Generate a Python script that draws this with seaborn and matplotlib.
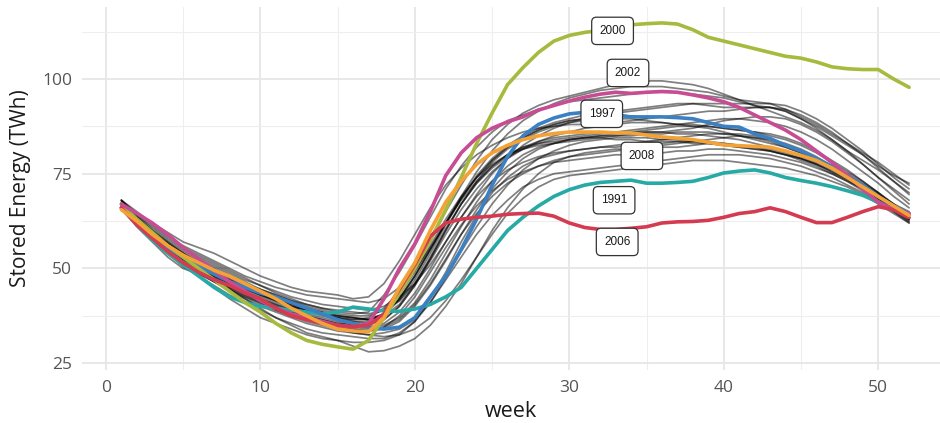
import matplotlib
matplotlib.use("Agg")
import matplotlib.pyplot as plt
from matplotlib.ticker import FixedLocator
import pandas as pd
import seaborn as sns

weeks = list(range(1, 53))

# ---- background years (drawn in translucent black) ----
y1990 = [68, 65, 62, 59.5, 57, 55.5, 54, 52, 50, 48, 46.5, 45, 44, 43.5, 43, 42, 42.5, 46, 52, 59, 66, 72, 76.5, 80, 82.5, 84.5,
         86, 87, 87.5, 88, 88, 88.5, 88.5, 89, 89.5, 90, 90.5, 91, 91.5, 91.5, 92, 92.5, 92.5, 91.5, 89.5, 87.5, 85, 82.5, 80, 77, 74.5, 72.5]
y1992 = [67, 62, 58, 54, 50.5, 48, 45, 42, 39.5, 37, 35.5, 34, 32.5, 31.5, 31, 30.5, 30.5, 31, 32.5, 36, 42, 49, 57, 64, 70, 74,
         77, 79, 80, 81, 81.5, 82, 82, 82.5, 83, 83, 83.5, 83.5, 83, 82.5, 82, 81.5, 81, 80, 79, 77.5, 76, 74, 71.5, 69, 66, 63]
y1993 = [66, 61, 57, 53, 50, 48.5, 47, 44.5, 42, 39.5, 37, 35, 33, 32, 31, 29.5, 28, 28.3, 29.5, 31.5, 35, 40, 46, 53, 60, 66,
         71, 75, 78, 79.5, 80.5, 81, 81.5, 81.5, 82, 82.5, 83, 83.5, 84, 84.5, 85, 84.5, 83.5, 82, 80.5, 78.5, 76.5, 74.5, 72, 69.5, 67, 65]
y1994 = [67, 63.5, 60, 57, 54, 51.5, 49, 47, 45, 43, 41.5, 40, 39, 38, 37, 36.5, 37, 39.5, 44, 50, 57, 65, 72, 78.5, 84, 88,
         91, 93, 94.5, 95.5, 96.5, 97.5, 98.5, 99, 99.5, 99.5, 99, 98.5, 97.5, 96, 94.5, 93, 91.5, 90, 88.5, 86.5, 84, 81, 77.5, 74, 70.5, 67]
y1995 = [68, 64, 60.5, 57.5, 55, 53, 51, 49, 47, 45.5, 44, 42.5, 41.5, 40.5, 40, 39.5, 39, 40, 42.5, 46, 51, 57, 63.5, 69.5, 75, 79,
         82.5, 85, 87, 88.5, 89.5, 90.5, 91, 91.5, 92, 92.5, 93, 93.5, 93.5, 93.5, 93.5, 93.5, 93.5, 92, 90, 88, 85.5, 83, 80.5, 78, 75, 72]
y1996 = [66, 62, 58.5, 55.5, 52.5, 50, 47.5, 45, 43, 41, 39, 37.5, 36, 35, 34, 33, 32.5, 32, 32.5, 34, 37, 41.5, 47, 53, 59, 64.5,
         68.5, 71.5, 73.5, 74.5, 75, 75.5, 76, 76.5, 77, 77.5, 78, 78.5, 78.5, 78.5, 78, 77.5, 77, 76.5, 75.5, 74.5, 73, 71.5, 69.5, 67, 64.5, 62]
y1998 = [67, 63, 59.5, 56.5, 54, 51.5, 49.5, 47.5, 45.5, 43.5, 42, 40.5, 39, 38, 37, 36, 35.5, 36.5, 40, 45.5, 52, 59, 65.5, 71, 75.5, 79,
         81.5, 83.5, 85, 86, 87, 87.5, 88, 88.5, 88.5, 88.5, 88, 88, 87.5, 87, 86.5, 86, 85, 84, 82.5, 80.5, 78, 75.5, 73, 70, 67, 64]
y1999 = [66.5, 62.5, 59, 56, 53, 50.5, 48, 46, 44, 42, 40.5, 39, 38, 37, 36, 35, 34.5, 35, 37, 41, 47, 54, 61, 67.5, 73, 77,
         80, 82, 83, 84, 84.5, 85, 85.5, 86, 86.5, 87, 87.5, 87.5, 87.5, 87, 86.5, 86, 85.5, 84.5, 83, 81, 78.5, 76, 73, 70, 66.5, 63]
y2001 = [67.5, 64, 61, 58, 55.5, 53.5, 51.5, 49.5, 47.5, 45.5, 43.5, 42, 40.5, 39.5, 38.5, 38, 38.5, 43, 49, 56, 63.5, 71, 77, 82, 86, 89,
         90.5, 92, 93, 94, 94.5, 95, 95.5, 96, 96.5, 96.5, 96.5, 96, 95.5, 95, 94, 93, 92.5, 92, 90.5, 88.5, 86, 83, 80, 76.5, 73, 69.5]
y2003 = [66, 61.5, 57.5, 54, 51, 48.5, 46.5, 44.5, 42.5, 41, 39.5, 38, 37, 36, 35, 34.5, 34, 34.5, 36.5, 40.5, 46, 52.5, 59, 64.5, 69, 72.5,
         75, 77, 78.5, 79.5, 80, 80.5, 81, 81.5, 82, 82, 82, 82.5, 83, 83, 82.5, 82, 81.5, 80.5, 79, 77.5, 75.5, 73.5, 71, 68.5, 66, 63.5]
y2004 = [67, 63, 59.5, 56.5, 54, 52, 50, 48, 46, 44.5, 43, 41.5, 40.5, 39.5, 39, 38.5, 38, 39, 41.5, 46, 52.5, 60, 67, 72.5, 77, 80,
         82, 83, 83.5, 84, 84.5, 85, 85, 85.5, 86, 86, 86.5, 87, 88, 89, 89.5, 90, 90, 89.5, 88, 86, 83.5, 80.5, 77.5, 74, 71, 68]
y2005 = [66.5, 62, 58, 54.5, 51.5, 49, 47, 45, 43.5, 42, 40.5, 39, 37.5, 36.5, 35.5, 35, 34.5, 35.5, 38.5, 43.5, 50, 57, 63.5, 69, 73, 76,
         78, 79.5, 80.5, 81, 81.5, 82, 82.5, 83, 83.5, 84, 84.5, 85, 85.5, 85.5, 85.5, 85, 84, 82.5, 81, 79, 77, 74.5, 72, 69, 66, 63]
y2007 = [68, 63.5, 59.5, 56, 53, 50.5, 48, 46, 44, 42.5, 41, 39.5, 38.5, 37.5, 36.5, 36, 36, 38, 42, 48, 55, 62, 68, 73, 77, 80,
         82, 83.5, 84.5, 85, 85.5, 86, 86, 86, 86, 86, 85.5, 85.5, 85, 84.5, 84, 83, 82, 81, 79.5, 78, 76.5, 74.5, 72, 69.5, 66.5, 63.5]
y2009 = [66, 61.5, 57.5, 54, 51, 48, 45.5, 43, 41, 39, 37, 35.5, 34, 33, 32.5, 32, 31.5, 31.5, 33, 36, 41, 47.5, 54.5, 61, 67, 72,
         76, 79, 81, 82.5, 83.5, 84, 84.5, 84.5, 84.5, 84, 84, 83.5, 83.5, 83, 82.5, 82, 81, 80, 78.5, 77, 75, 73, 70.5, 68, 65, 62]
y2010 = [66, 62, 58, 54.5, 51.5, 49, 46.5, 44, 42, 40, 38.5, 37, 35.5, 34.5, 33.5, 33, 32.5, 33, 34, 36.5, 41, 47, 53, 59, 64, 68,
         71.5, 73.5, 75, 75.5, 76, 76.5, 77, 77.5, 78, 78.5, 79, 79.5, 80, 80, 80, 79.5, 79, 78, 77, 75.5, 74, 72, 70, 67.5, 65, 62.5]
y2011 = [67, 63, 59, 55.5, 52.5, 50, 48, 46, 44.5, 43, 41.5, 40, 39, 38, 37, 36.5, 36.5, 38, 41.5, 47, 54, 61.5, 68.5, 74.5, 79, 82.5,
         85, 87, 88.5, 89.5, 90.5, 91, 91.5, 92, 92.5, 93, 93.5, 93.5, 93, 92.5, 92.5, 92.5, 92.5, 91.5, 89.5, 87, 84, 81, 78.5, 76, 73, 70]
y2012 = [67.5, 63.5, 60, 57, 54.5, 52.5, 50.5, 48.5, 46.5, 44.5, 43, 41.5, 40, 39, 38, 37.5, 37.5, 39, 43, 49, 56, 63, 69, 74, 77.5, 80,
         81.5, 82.5, 83, 83.5, 84, 84.5, 85, 85, 85.5, 85.5, 86, 86, 86, 85.5, 85, 84.5, 84, 83, 81.5, 79.5, 77, 74.5, 72, 69, 66, 63]
y2013 = [66.5, 62.5, 59, 55.5, 52.5, 50, 47.5, 45.5, 43.5, 41.5, 40, 38.5, 37.5, 36.5, 35.5, 35, 35, 36.5, 40, 45.5, 52.5, 60, 67, 73, 78, 81.5,
         84, 86, 87.5, 88.5, 89, 89.5, 89.5, 89.5, 89, 88.5, 88, 87.5, 87, 86, 85, 84, 83, 82, 80.5, 79, 77, 75, 72.5, 70, 67, 64]
y2014 = [67, 62.5, 58.5, 55, 52, 49.5, 47, 45, 43, 41.5, 40, 38.5, 37, 36, 35, 34, 33.5, 34.5, 37.5, 42.5, 49, 55.5, 61.5, 66.5, 70.5, 73.5,
         75.5, 77, 78, 78.5, 79, 79.5, 80, 80, 80.5, 80.5, 81, 81, 81.5, 81.5, 81, 80.5, 80, 79, 78, 76.5, 75, 73, 71, 68.5, 66, 63]
y2015 = [68, 64.5, 61.5, 58.5, 56, 54, 52, 50, 48, 46.5, 45, 44, 43, 42.5, 42, 41.5, 41, 42, 45, 49.5, 55.5, 62, 69, 75.5, 81, 85.5,
         89, 91.5, 93.5, 95, 96, 97, 97.5, 98, 98, 98, 97.5, 97, 96.5, 95.5, 94.5, 94, 93.5, 93, 91.5, 89.5, 87, 84, 81, 77.5, 74, 71]
y2016 = [67, 63, 59.5, 56, 53, 50.5, 48.5, 46.5, 44.5, 43, 41.5, 40, 39, 38, 37.5, 37, 36.5, 37.5, 40.5, 46, 53, 60.5, 67, 72.5, 76.5, 79.5,
         81.5, 83, 84, 84.5, 85, 85.5, 86, 86.5, 87, 87.5, 88, 88.5, 89, 89.5, 89.5, 89, 88.5, 87.5, 86, 84, 81.5, 78.5, 75.5, 72.5, 69, 66]
y2017 = [66.5, 62, 58, 54.5, 51.5, 49, 46.5, 44.5, 42.5, 40.5, 39, 37.5, 36.5, 35.5, 34.5, 34, 33.5, 34, 36, 40, 45.5, 52, 59, 65.5, 71, 75.5,
         79, 81.5, 83, 84, 84.5, 84.5, 84, 84, 83.5, 83.5, 83.5, 83, 83, 82.5, 82, 81.5, 81, 80, 79, 77.5, 75.5, 73.5, 71, 68.5, 65.5, 62.5]

# ---- current year (partial, up to week 35) ----
y2018 = [67, 63, 59.5, 56.5, 53.5, 51, 49, 47, 45, 43.5, 42, 40.5, 39.5, 38.5, 37.5, 37, 36.5, 38, 42, 48, 55, 62, 68.5, 74, 78.5, 82,
         84.5, 86.5, 88, 89, 89.5, 90, 90.5, 90.2, 89.7]

# ---- highlighted years ----
y1991 = [66, 61.5, 57.5, 54, 51, 48, 45, 42.5, 41, 40, 39.5, 39, 38.5, 38, 38.5, 39.8, 39.3, 38.8, 38.7, 39.3, 40.5, 42.5, 45, 50, 55, 60,
         63.5, 66.5, 69, 70.8, 72, 72.7, 73, 73.3, 72.5, 72.5, 72.7, 73, 74, 75.2, 75.7, 76, 75.2, 74, 73.2, 72.5, 71.6, 70.5, 69.3, 67.5, 65.5, 64]
y1997 = [66, 62, 58.5, 55.5, 53, 50.5, 48.5, 46.5, 45, 43.5, 42.5, 41, 39.5, 38, 36.5, 35.5, 34.5, 34, 34.5, 37, 42.5, 48, 55, 63, 72, 79.5,
         85, 88, 89.7, 90.8, 91.2, 91, 90.5, 90, 90, 90, 89.8, 89.5, 88.5, 87.5, 87.3, 85.5, 84.3, 82.5, 81, 79, 77, 74.5, 72, 69, 66.5, 64.5]
y2000 = [67, 63, 59.5, 56, 53, 50, 47, 44, 41, 38.5, 35.5, 33, 31, 30, 29.3, 28.7, 31, 37, 43.5, 50, 57.5, 65.5, 74, 83, 91, 98.5,
         103, 107, 110, 111.5, 112.3, 112.8, 113.5, 114.3, 114.6, 114.8, 114.5, 113, 111, 110, 109, 108, 107, 106, 105.5, 104.5, 103.2, 102.7, 102.5, 102.5, 100, 97.8]
y2002 = [67, 64.5, 62, 59, 55.5, 52.5, 49.5, 46.5, 44, 41.5, 39.5, 38, 37, 36, 35, 34.5, 35.5, 42, 50, 56.5, 65, 74.5, 80.5, 84.5, 87, 88.7,
         90, 91.8, 93, 94.2, 95.2, 96, 96.5, 96.2, 96.5, 96.7, 96.5, 95.8, 95, 94, 92.5, 90.5, 88.5, 86.5, 84, 81, 78, 74.5, 71, 67.5, 65.5, 64.5]
y2006 = [66, 61.5, 58, 54.5, 51.5, 49, 47, 45.5, 43.5, 42, 39.5, 37.5, 36.5, 35.5, 35, 34.7, 35, 38, 44.5, 51, 58.5, 62, 63, 63.5, 63.8, 64.3,
         64.5, 64.6, 63.8, 62, 60.8, 60.3, 60.3, 60.6, 61, 62, 62.3, 62.4, 62.7, 63.5, 64.5, 65, 66, 65, 63.5, 62.1, 62.1, 63.5, 65, 66.3, 65.5, 63.4]
y2008 = [65.5, 62.5, 59, 56, 53.5, 51.5, 49.5, 48, 46, 44, 42, 39.5, 37.5, 35.5, 34, 33.5, 33.3, 37, 45, 51.5, 60, 67.5, 73, 77.5, 80.5, 82.5,
         84, 85, 85.6, 86, 86, 86, 85.8, 85.8, 85.2, 84.7, 84.4, 84, 83.3, 82.6, 82.4, 82.2, 82, 81, 79.8, 78.5, 76.5, 74, 71.5, 69, 66.5, 64]

highlight_colors = {
    "2000": "#A8BA3E",
    "2002": "#C84C93",
    "1997": "#3B80C3",
    "2008": "#F4A136",
    "1991": "#27A9A5",
    "2006": "#D43B50",
}

# year labels placed next to the highlighted curves
label_years = ["2000", "2002", "1997", "2008", "1991", "2006"]
label_weeks = [32.8, 33.8, 32.1, 34.7, 32.9, 33.1]
label_values = [112.7, 101.6, 90.8, 79.7, 68.0, 57.0]

grey_series = {
    1990: y1990, 1992: y1992, 1993: y1993, 1994: y1994, 1995: y1995, 1996: y1996,
    1998: y1998, 1999: y1999, 2001: y2001, 2003: y2003, 2004: y2004, 2005: y2005,
    2007: y2007, 2009: y2009, 2010: y2010, 2011: y2011, 2012: y2012, 2013: y2013,
    2014: y2014, 2015: y2015, 2016: y2016, 2017: y2017,
}
highlight_series = {"1991": y1991, "1997": y1997, "2000": y2000,
                    "2002": y2002, "2006": y2006, "2008": y2008}


def to_long(series):
    rows = []
    for yr, vals in series.items():
        for w, v in zip(weeks, vals):
            rows.append({"year": str(yr), "week": w, "value": v})
    return pd.DataFrame(rows)


grey_df = to_long(grey_series)
hl_df = to_long(highlight_series)
cur_df = pd.DataFrame({"year": "2018", "week": weeks[:len(y2018)], "value": y2018})

sns.set_style("white")
plt.rcParams["font.family"] = ["Open Sans", "DejaVu Sans"]

W, H = 940, 423
fig = plt.figure(figsize=(W / 100, H / 100), dpi=100)
ax = fig.add_axes([82 / W, 1 - 370 / H, (W - 82) / W, (370 - 7) / H])

sns.lineplot(data=grey_df, x="week", y="value", units="year", estimator=None,
             color="black", alpha=0.5, lw=1.25, ax=ax, legend=False, zorder=2)
sns.lineplot(data=cur_df, x="week", y="value", estimator=None,
             color="black", alpha=0.75, lw=1.3, ax=ax, legend=False, zorder=2)
sns.lineplot(data=hl_df, x="week", y="value", hue="year", units="year", estimator=None,
             palette=highlight_colors, lw=2.6, ax=ax, legend=False, zorder=4)

for yr, w, v in zip(label_years, label_weeks, label_values):
    ax.text(w, v, yr, ha="center", va="center", fontsize=8.5, family="Liberation Sans",
            color="#1a1a1a", zorder=6,
            bbox=dict(boxstyle="round,pad=0.65,rounding_size=0.4", fc="white",
                      ec="#333333", lw=0.9))

ax.set_xlim(-1.55, 54.0)
ax.set_ylim(23.2, 119.0)
ax.set_xticks([0, 10, 20, 30, 40, 50])
ax.set_yticks([25, 50, 75, 100])
ax.xaxis.set_minor_locator(FixedLocator([5, 15, 25, 35, 45]))
ax.yaxis.set_minor_locator(FixedLocator([37.5, 62.5, 87.5, 112.5]))
ax.grid(which="major", color="#e6e6e6", lw=1.3)
ax.grid(which="minor", color="#eeeeee", lw=0.8)
ax.set_axisbelow(True)
for s in ax.spines.values():
    s.set_visible(False)
ax.tick_params(which="both", length=0, labelsize=12.5, labelcolor="#555555", pad=7)
ax.set_xlabel("week", fontsize=15.5, color="#1a1a1a", labelpad=4)
ax.set_ylabel("Stored Energy (TWh)", fontsize=15, color="#1a1a1a", labelpad=8)

fig.savefig("out.png", dpi=100)
